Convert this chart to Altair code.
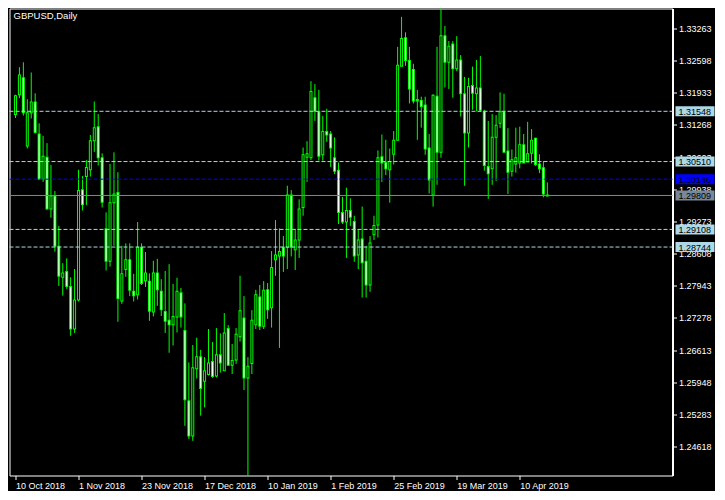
import altair as alt
import pandas as pd

FONT = "Liberation Sans"

opens = [1.3149, 1.3190, 1.3225, 1.3084, 1.3153, 1.3175, 1.3109, 1.3016, 1.3061, 1.2954,
         1.2981, 1.2877, 1.2813, 1.2825, 1.2794, 1.2706, 1.2766, 1.2994, 1.3021, 1.3035,
         1.3095, 1.3124, 1.3060, 1.2913, 1.2846, 1.2967, 1.2988, 1.2764, 1.2829, 1.2849,
         1.2784, 1.2777, 1.2875, 1.2806, 1.2805, 1.2741, 1.2822, 1.2784, 1.2742, 1.2724,
         1.2715, 1.2731, 1.2781, 1.2703, 1.2558, 1.2485, 1.2624, 1.2649, 1.2598, 1.2612,
         1.2639, 1.2609, 1.2653, 1.2620, 1.2707, 1.2631, 1.2642, 1.2690, 1.2729, 1.2605,
         1.2635, 1.2715, 1.2772, 1.2712, 1.2787, 1.2750, 1.2849, 1.2857, 1.2875, 1.2875,
         1.2983, 1.2870, 1.2890, 1.2957, 1.3061, 1.3060, 1.3184, 1.3155, 1.3066, 1.3114,
         1.3109, 1.3060, 1.3034, 1.2947, 1.2927, 1.2951, 1.2928, 1.2859, 1.2892, 1.2846,
         1.2797, 1.2901, 1.2921, 1.3062, 1.3050, 1.3035, 1.3067, 1.3096, 1.3249, 1.3308,
         1.3261, 1.3242, 1.3177, 1.3178, 1.3169, 1.3080, 1.2983, 1.3187, 1.3071, 1.3312,
         1.3257, 1.3295, 1.3244, 1.3262, 1.3192, 1.3111, 1.3209, 1.3192, 1.3204, 1.3156,
         1.3042, 1.3037, 1.3102, 1.3131, 1.3155, 1.3074, 1.3032, 1.3047, 1.3049, 1.3087,
         1.3051, 1.3069, 1.3100, 1.3047, 1.3039, 1.2983]
highs = [1.3189, 1.3246, 1.3256, 1.3180, 1.3235, 1.3192, 1.3130, 1.3104, 1.3089, 1.3044,
         1.2990, 1.2918, 1.2841, 1.2851, 1.2812, 1.2829, 1.3034, 1.3021, 1.3054, 1.3106,
         1.3175, 1.3149, 1.3068, 1.2946, 1.3046, 1.3070, 1.3029, 1.2877, 1.2882, 1.2882,
         1.2819, 1.2926, 1.2882, 1.2864, 1.2820, 1.2846, 1.2850, 1.2808, 1.2825, 1.2839,
         1.2798, 1.2811, 1.2790, 1.2758, 1.2636, 1.2672, 1.2687, 1.2662, 1.2647, 1.2705,
         1.2678, 1.2707, 1.2696, 1.2738, 1.2713, 1.2674, 1.2707, 1.2815, 1.2773, 1.2647,
         1.2744, 1.2786, 1.2796, 1.2804, 1.2800, 1.2866, 1.2930, 1.2913, 1.2897, 1.3001,
         1.2992, 1.2912, 1.2973, 1.3080, 1.3093, 1.3217, 1.3211, 1.3199, 1.3145, 1.3160,
         1.3114, 1.3101, 1.3049, 1.2978, 1.2997, 1.2975, 1.2939, 1.2911, 1.2958, 1.2877,
         1.2897, 1.2939, 1.3074, 1.3107, 1.3096, 1.3078, 1.3114, 1.3288, 1.3350, 1.3318,
         1.3288, 1.3253, 1.3199, 1.3185, 1.3185, 1.3108, 1.3190, 1.3288, 1.3379, 1.3331,
         1.3300, 1.3300, 1.3310, 1.3271, 1.3226, 1.3224, 1.3247, 1.3261, 1.3269, 1.3158,
         1.3135, 1.3149, 1.3147, 1.3194, 1.3191, 1.3120, 1.3076, 1.3121, 1.3123, 1.3108,
         1.3133, 1.3118, 1.3100, 1.3066, 1.3052, 1.3008]
lows = [1.3141, 1.3182, 1.3146, 1.3078, 1.3140, 1.3109, 1.3013, 1.3009, 1.2952, 1.2935,
        1.2865, 1.2794, 1.2774, 1.2788, 1.2691, 1.2697, 1.2762, 1.2950, 1.2961, 1.3020,
        1.3071, 1.3043, 1.2956, 1.2826, 1.2834, 1.2877, 1.2720, 1.2757, 1.2813, 1.2773,
        1.2762, 1.2766, 1.2796, 1.2792, 1.2722, 1.2731, 1.2753, 1.2732, 1.2697, 1.2656,
        1.2671, 1.2698, 1.2708, 1.2505, 1.2478, 1.2474, 1.2603, 1.2526, 1.2543, 1.2609,
        1.2604, 1.2605, 1.2615, 1.2619, 1.2629, 1.2612, 1.2633, 1.2679, 1.2579, 1.2396,
        1.2612, 1.2705, 1.2703, 1.2705, 1.2726, 1.2708, 1.2815, 1.2666, 1.2823, 1.2829,
        1.2855, 1.2827, 1.2852, 1.2939, 1.3009, 1.3054, 1.3135, 1.3053, 1.3053, 1.3092,
        1.3040, 1.3025, 1.2922, 1.2922, 1.2852, 1.2918, 1.2844, 1.2829, 1.2770, 1.2770,
        1.2782, 1.2889, 1.2894, 1.3009, 1.3023, 1.2966, 1.3045, 1.3095, 1.3248, 1.3249,
        1.3171, 1.3171, 1.3096, 1.3121, 1.3065, 1.2985, 1.2958, 1.3003, 1.3059, 1.3204,
        1.3201, 1.3183, 1.3238, 1.3144, 1.3001, 1.3080, 1.3158, 1.3155, 1.3154, 1.3032,
        1.2974, 1.3003, 1.3011, 1.3120, 1.3070, 1.2984, 1.3020, 1.3028, 1.3037, 1.3048,
        1.3050, 1.3047, 1.3042, 1.3027, 1.2977, 1.2979]
closes = [1.3188, 1.3231, 1.3153, 1.3153, 1.3175, 1.3112, 1.3016, 1.3063, 1.2954, 1.2981,
          1.2877, 1.2815, 1.2822, 1.2794, 1.2706, 1.2766, 1.2992, 1.2963, 1.3040, 1.3095,
          1.3122, 1.3060, 1.2968, 1.2846, 1.2967, 1.2985, 1.2769, 1.2820, 1.2849, 1.2786,
          1.2775, 1.2875, 1.2800, 1.2822, 1.2743, 1.2822, 1.2787, 1.2746, 1.2722, 1.2715,
          1.2732, 1.2784, 1.2731, 1.2560, 1.2485, 1.2626, 1.2649, 1.2583, 1.2620, 1.2636,
          1.2608, 1.2653, 1.2636, 1.2698, 1.2631, 1.2641, 1.2695, 1.2744, 1.2605, 1.2629,
          1.2724, 1.2777, 1.2712, 1.2786, 1.2746, 1.2833, 1.2859, 1.2866, 1.2857, 1.2983,
          1.2875, 1.2890, 1.2954, 1.3066, 1.3068, 1.3197, 1.3156, 1.3063, 1.3114, 1.3107,
          1.3080, 1.3032, 1.2947, 1.2927, 1.2951, 1.2937, 1.2857, 1.2890, 1.2843, 1.2797,
          1.2884, 1.2920, 1.3060, 1.3049, 1.3037, 1.3052, 1.3096, 1.3251, 1.3306, 1.3261,
          1.3202, 1.3177, 1.3180, 1.3166, 1.3078, 1.3014, 1.3189, 1.3071, 1.3312, 1.3257,
          1.3290, 1.3244, 1.3262, 1.3192, 1.3111, 1.3207, 1.3193, 1.3204, 1.3158, 1.3044,
          1.3027, 1.3102, 1.3127, 1.3155, 1.3071, 1.3030, 1.3056, 1.3060, 1.3087, 1.3049,
          1.3068, 1.3096, 1.3046, 1.3037, 1.2985, 1.29809]

tick_bars = [0, 16, 32, 48, 64, 80, 96, 112, 128]
tick_labels = ["10 Oct 2018", "1 Nov 2018", "23 Nov 2018", "17 Dec 2018", "10 Jan 2019",
               "1 Feb 2019", "25 Feb 2019", "19 Mar 2019", "10 Apr 2019"]
price_ticks = [1.33263, 1.32598, 1.31933, 1.31268, 1.30603, 1.29938, 1.29273,
               1.28608, 1.27943, 1.27278, 1.26613, 1.25948, 1.25283, 1.24618]
level_prices = [1.31548, 1.30510, 1.29108, 1.28744]
ask_price = [1.30146]
bid_price = [1.29809]
tag_prices = [1.31548, 1.30510, 1.30146, 1.29809, 1.29108, 1.28744]
tag_fills = ["#add8e6", "#add8e6", "#0000ff", "#778899", "#add8e6", "#add8e6"]
tag_text_colors = ["black", "black", "black", "black", "black", "black"]
symbol_title = ["GBPUSD,Daily"]

df = pd.DataFrame({"bar": list(range(len(opens))), "open": opens, "high": highs,
                   "low": lows, "close": closes})

W, H = 663, 467
x_scale = alt.Scale(domain=[-0.25, 165.5], nice=False, zero=False)
y_scale = alt.Scale(domain=[1.24024, 1.33672], nice=False, zero=False)

label_js = "[" + ",".join("'" + t + "'" for t in tick_labels) + "][round(datum.value/16)]"

x_axis = alt.Axis(values=tick_bars, labelExpr=label_js, title=None, grid=False,
                  domain=False, ticks=True, tickSize=4, tickColor="white",
                  labelColor="white", labelFont=FONT, labelFontSize=9,
                  labelAlign="left", labelBaseline="top", labelPadding=2,
                  labelOverlap=False, labelFlush=False, zindex=0)
y_axis = alt.Axis(orient="right", values=price_ticks, format=".5f", title=None,
                  grid=False, domain=True, domainColor="white", domainWidth=2,
                  ticks=True, tickColor="white", tickSize=4, labelColor="white",
                  labelFont=FONT, labelFontSize=9, labelPadding=2,
                  labelOverlap=False, labelBaseline="middle", labelFlush=False,
                  zindex=0)

X = alt.X("bar:Q", scale=x_scale, axis=x_axis)

base = alt.Chart(df).transform_calculate(
    top="max(datum.open, datum.close)",
    bot="min(datum.open, datum.close)",
)

wicks = base.mark_rule(color="#00ff00", strokeWidth=1, clip=True).encode(
    x=X,
    y=alt.Y("low:Q", scale=y_scale, axis=y_axis),
    y2="high:Q",
)
outer = base.mark_bar(size=3, color="#00ff00", clip=True, y2Offset=1).encode(
    x=X,
    y=alt.Y("top:Q", scale=y_scale, axis=y_axis),
    y2="bot:Q",
)
inner = base.transform_filter("datum.top - datum.bot > 0.0003").mark_bar(
    size=1, clip=True, yOffset=1).encode(
    x=X,
    y=alt.Y("top:Q", scale=y_scale, axis=y_axis),
    y2="bot:Q",
    color=alt.condition("datum.close < datum.open", alt.value("white"), alt.value("black")),
)

levels = alt.Chart(pd.DataFrame({"price": level_prices})).mark_rule(
    color="#add8e6", strokeDash=[4, 2], strokeWidth=1).encode(
    y=alt.Y("price:Q", scale=y_scale, axis=y_axis),
    x=alt.value(0), x2=alt.value(W))
ask_line = alt.Chart(pd.DataFrame({"price": ask_price})).mark_rule(
    color="#0000ff", strokeDash=[4, 2], strokeWidth=1).encode(
    y=alt.Y("price:Q", scale=y_scale, axis=y_axis),
    x=alt.value(0), x2=alt.value(W))
bid_line = alt.Chart(pd.DataFrame({"price": bid_price})).mark_rule(
    color="#778899", strokeWidth=1).encode(
    y=alt.Y("price:Q", scale=y_scale, axis=y_axis),
    x=alt.value(0), x2=alt.value(W))

tags_df = pd.DataFrame({"price": tag_prices, "fill": tag_fills, "tcolor": tag_text_colors,
                        "label": ["%.5f" % p for p in tag_prices]})
tag_boxes = alt.Chart(tags_df).mark_rect(yOffset=-5, y2Offset=5).encode(
    y=alt.Y("price:Q", scale=y_scale, axis=y_axis),
    y2="price:Q",
    x=alt.value(W + 3), x2=alt.value(W + 42),
    color=alt.Color("fill:N", scale=None),
)
tag_texts = alt.Chart(tags_df).mark_text(align="left", baseline="middle", font=FONT,
                                         fontSize=9, dy=0.5).encode(
    y=alt.Y("price:Q", scale=y_scale, axis=y_axis),
    x=alt.value(W + 6),
    text="label:N",
    color=alt.Color("tcolor:N", scale=None),
)

title_txt = alt.Chart(pd.DataFrame({"t": symbol_title})).mark_text(
    align="left", baseline="middle", color="white", font=FONT, fontSize=9.5).encode(
    text="t:N", x=alt.value(4), y=alt.value(7))

chart = alt.layer(wicks, outer, inner, levels, ask_line, bid_line, tag_boxes, tag_texts,
                  title_txt).properties(
    width=W, height=H,
    padding={"left": 0.5, "top": 0.5, "right": 0, "bottom": 0},
    background="black",
).configure_view(stroke="white", strokeWidth=1, fill="black")

chart.save("out.html", embed_options={"renderer": "svg", "actions": False})
